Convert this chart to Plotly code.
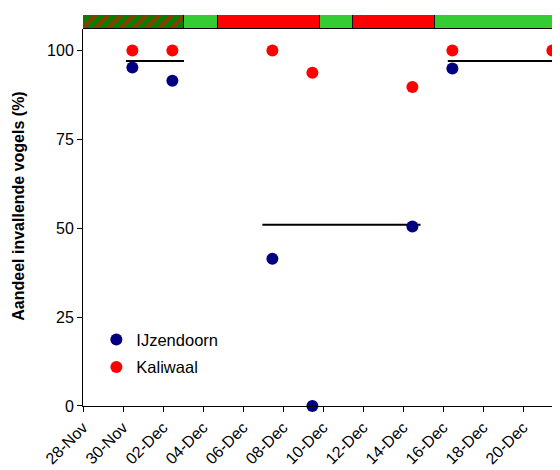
import plotly.graph_objects as go
import pandas as pd

# ---- data ----
dates_ijz = ["2008-11-30 11:15", "2008-12-02 11:15", "2008-12-07 11:15",
             "2008-12-09 11:15", "2008-12-14 11:15", "2008-12-16 11:15"]
vals_ijz = [95.2, 91.5, 41.4, 0, 50.5, 94.9]

dates_kal = ["2008-11-30 11:15", "2008-12-02 11:15", "2008-12-07 11:15",
             "2008-12-09 11:15", "2008-12-14 11:15", "2008-12-16 11:15",
             "2008-12-21 11:15"]
vals_kal = [100, 100, 100, 93.7, 89.7, 100, 100]

# horizontal reference lines (start, end, level)
ref_start = ["2008-11-30 03:30", "2008-12-06 23:15", "2008-12-16 05:45"]
ref_end = ["2008-12-03 01:10", "2008-12-14 21:00", "2008-12-21 16:20"]
ref_level = [97, 51, 97]

# top status bar phases
phase_start = ["2008-11-28 00:00", "2008-12-03 01:10", "2008-12-04 18:30",
               "2008-12-09 20:30", "2008-12-11 12:30", "2008-12-15 14:30"]
phase_end = ["2008-12-03 01:10", "2008-12-04 18:30", "2008-12-09 20:30",
             "2008-12-11 12:30", "2008-12-15 14:30", "2008-12-22 00:00"]
phase_kind = ["mixed", "green", "red", "green", "red", "green"]

x_range = ["2008-11-28 00:00", "2008-12-21 20:24"]
tick_start = "2008-11-28"

FONT = "Liberation Sans, Arial, sans-serif"
GREEN = "#33CC33"
DARK_GREEN = "#008000"
RED = "#FF0000"
NAVY = "#000080"

fig = go.Figure()

# status bar
for s, e, k in zip(phase_start, phase_end, phase_kind):
    dur = (pd.Timestamp(e) - pd.Timestamp(s)).total_seconds() * 1000
    marker = dict(line=dict(color="black", width=1))
    if k == "mixed":
        marker["color"] = DARK_GREEN
        marker["pattern"] = dict(shape="/", fgcolor=RED, bgcolor=DARK_GREEN,
                                 size=9, solidity=0.5, fillmode="overlay")
    else:
        marker["color"] = GREEN if k == "green" else RED
    fig.add_trace(go.Bar(x=[dur], base=[s], y=[0], orientation="h",
                         width=1, marker=marker, yaxis="y2",
                         showlegend=False, hoverinfo="skip"))

# reference lines
for s, e, lv in zip(ref_start, ref_end, ref_level):
    fig.add_trace(go.Scatter(x=[s, e], y=[lv, lv], mode="lines",
                             line=dict(color="black", width=2),
                             showlegend=False, hoverinfo="skip"))

fig.add_trace(go.Scatter(x=dates_ijz, y=vals_ijz, mode="markers", name="IJzendoorn",
                         legendgroup="a",
                         marker=dict(color=NAVY, size=12), cliponaxis=False))
fig.add_trace(go.Scatter(x=dates_kal, y=vals_kal, mode="markers", name="Kaliwaal",
                         legendgroup="b",
                         marker=dict(color=RED, size=12), cliponaxis=False))

fig.update_layout(
    width=552, height=470,
    margin=dict(l=75, r=0, t=7, b=71.5, autoexpand=False),
    paper_bgcolor="white", plot_bgcolor="white",
    font=dict(family=FONT, size=16, color="black"),
    barmode="overlay", bargap=0,
    xaxis=dict(type="date", range=x_range, tick0=tick_start, dtick=2 * 86400000,
               tickformat="%d-%b", tickangle=-45, ticks="outside", ticklen=5,
               tickcolor="black", showline=True, linecolor="black", linewidth=1,
               showgrid=False, zeroline=False, tickfont=dict(size=16),
               automargin=False),
    yaxis=dict(domain=[0, 0.964], range=[0, 106], tickvals=[0, 25, 50, 75, 100],
               ticks="outside", ticklen=5, tickcolor="black", showline=True,
               linecolor="black", linewidth=1, showgrid=False, zeroline=False,
               tickfont=dict(size=16), automargin=False),
    yaxis2=dict(domain=[0.964, 1], range=[-0.5, 0.5], showticklabels=False,
                showgrid=False, zeroline=False, showline=False, ticks=""),
    legend=dict(x=0.028, y=0.214, xanchor="left", yanchor="top",
                bgcolor="rgba(0,0,0,0)", font=dict(size=16.5), tracegroupgap=3,
                itemwidth=30),
    annotations=[dict(text="<b>Aandeel invallende vogels (%)</b>", textangle=-90,
                      xref="paper", yref="paper", x=-0.136, y=0.51,
                      showarrow=False, font=dict(size=16),
                      xanchor="center", yanchor="middle")],
)

fig.write_html("out.html")
